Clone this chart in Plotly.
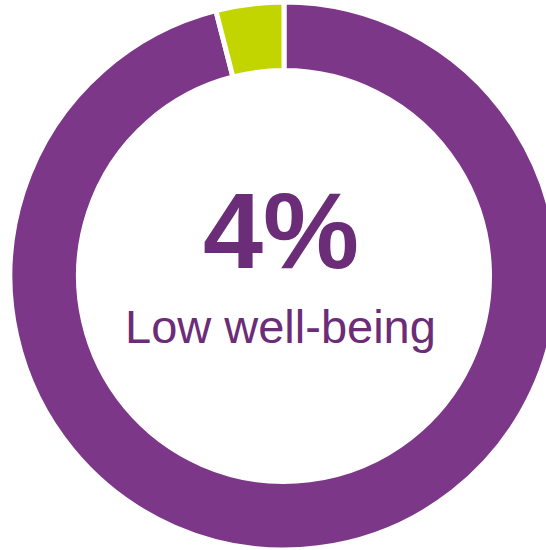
import plotly.graph_objects as go

# Share of respondents by well-being group
labels = ["Other", "Low well-being"]
values = [96, 4]
colors = ["#7D3789", "#C3D500"]

TEXT_COLOR = "#6B2C78"
FIG_W, FIG_H = 570, 550
CX, CY, R = 284, 276, 274  # ring centre (px from top-left) and radius

# Clockwise from 12 o'clock: the large slice first, the small one ends at the top
fig = go.Figure(
    go.Pie(
        labels=labels,
        values=values,
        hole=0.75,
        sort=False,
        direction="clockwise",
        rotation=0,
        textinfo="none",
        hoverinfo="label+percent",
        marker=dict(colors=colors, line=dict(color="white", width=5)),
        domain=dict(
            x=[(CX - R) / FIG_W, (CX + R) / FIG_W],
            y=[(FIG_H - CY - R) / FIG_H, (FIG_H - CY + R) / FIG_H],
        ),
        showlegend=False,
    )
)

share = values[1] / sum(values) * 100
fig.add_annotation(
    x=281 / FIG_W, y=1 - 231 / FIG_H, xref="paper", yref="paper",
    text=f"<b>{share:.0f}%</b>", showarrow=False,
    xanchor="center", yanchor="middle",
    font=dict(family="Liberation Sans, Arial, sans-serif", size=108, color=TEXT_COLOR),
)
fig.add_annotation(
    x=280 / FIG_W, y=1 - 326 / FIG_H, xref="paper", yref="paper",
    text=labels[1], showarrow=False,
    xanchor="center", yanchor="middle",
    font=dict(family="Liberation Sans, Arial, sans-serif", size=47, color=TEXT_COLOR),
)

fig.update_layout(
    width=FIG_W, height=FIG_H,
    margin=dict(l=0, r=0, t=0, b=0),
    paper_bgcolor="white", plot_bgcolor="white",
)

fig.write_html(
    "out.html",
    post_script="document.body.style.margin='0';document.body.style.overflow='hidden';",
)
